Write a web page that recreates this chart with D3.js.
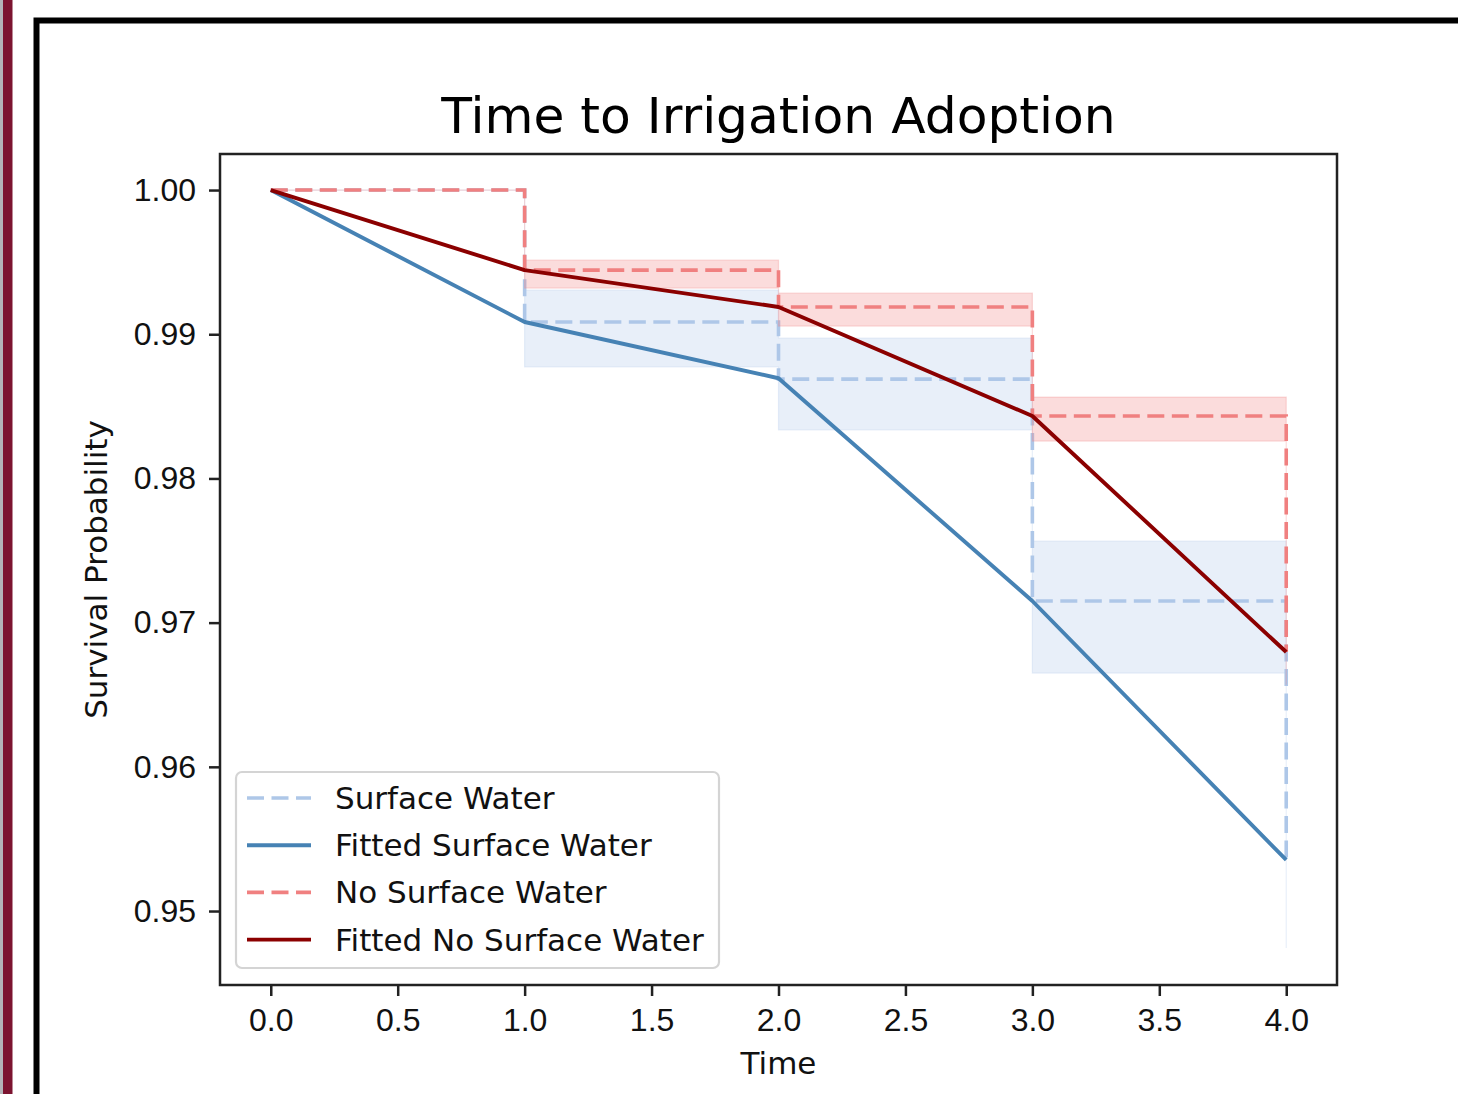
<!DOCTYPE html>
<meta charset="utf-8">
<title>Time to Irrigation Adoption</title>
<style>
  body { margin: 0; background: #fff; }
  svg { display: block; font-family: "DejaVu Sans", sans-serif; }
  .tick text { font-size: 32px; fill: #111; }
  .tick line { stroke: #222; stroke-width: 2.5; }
</style>
<body>
<svg width="1458" height="1094" id="chart"></svg>
<script src="https://d3js.org/d3.v7.min.js"></script>
<script>
// survival data
var times = [0, 1, 2, 3, 4];
var swKM = [1.0, 0.99085, 0.98689, 0.97150, 0.95354];
var swFit = [1.0, 0.99085, 0.98695, 0.97150, 0.95354];
var swLo = [1.0, 0.98773, 0.98336, 0.96650, 0.94743];
var swHi = [1.0, 0.99307, 0.98974, 0.97566, 0.96000];
var nswKM = [1.0, 0.99445, 0.99189, 0.98433, 0.96796];
var nswFit = [1.0, 0.99445, 0.99189, 0.98433, 0.96796];
var nswLo = [1.0, 0.99320, 0.99057, 0.98259, 0.96570];
var nswHi = [1.0, 0.99515, 0.99286, 0.98564, 0.97020];
var xTicks = [0, 0.5, 1, 1.5, 2, 2.5, 3, 3.5, 4];
var yTicks = [0.95, 0.96, 0.97, 0.98, 0.99, 1.00];
var legendLabels = ["Surface Water", "Fitted Surface Water", "No Surface Water", "Fitted No Surface Water"];

var svg = d3.select("#chart");

// page decoration: side strip and frame
svg.append("rect").attr("x", 0).attr("y", 0).attr("width", 3).attr("height", 1094).attr("fill", "#b4b4b8");
svg.append("rect").attr("x", 3).attr("y", 0).attr("width", 9.5).attr("height", 1094).attr("fill", "#7c1430");
svg.append("path")
    .attr("d", "M36.5,1100 V20.5 H1470")
    .attr("fill", "none").attr("stroke", "#000").attr("stroke-width", 6);

var pLeft = 220, pRight = 1337, pTop = 154, pBottom = 985;

var x = d3.scaleLinear().domain([-0.2, 4.2]).range([pLeft, pRight]);
var y = d3.scaleLinear().domain([0.94487, 1.0025]).range([pBottom, pTop]);

var plot = svg.append("g");
plot.append("clipPath").attr("id", "clip")
  .append("rect").attr("x", pLeft).attr("y", pTop).attr("width", pRight - pLeft).attr("height", pBottom - pTop);
var g = plot.append("g").attr("clip-path", "url(#clip)");

function rows(a, b) {
  return times.map(function(t, i) { return {t: t, lo: a[i], hi: b ? b[i] : a[i]}; });
}

var band = d3.area().curve(d3.curveStepAfter)
    .x(function(d) { return x(d.t); })
    .y0(function(d) { return y(d.lo); })
    .y1(function(d) { return y(d.hi); });
var step = d3.line().curve(d3.curveStepAfter)
    .x(function(d) { return x(d.t); })
    .y(function(d) { return y(d.lo); });
var straight = d3.line()
    .x(function(d) { return x(d.t); })
    .y(function(d) { return y(d.lo); });

var series = [
  {km: swKM, fit: swFit, lo: swLo, hi: swHi, light: "#aec7e8", dark: "#4682b4"},
  {km: nswKM, fit: nswFit, lo: nswLo, hi: nswHi, light: "#f08080", dark: "#8b0000"}
];

series.forEach(function(s) {
  g.append("path").attr("d", band(rows(s.lo, s.hi)))
      .attr("fill", s.light).attr("fill-opacity", 0.28)
      .attr("stroke", s.light).attr("stroke-opacity", 0.28).attr("stroke-width", 1.2);
  g.append("path").attr("d", step(rows(s.km)))
      .attr("fill", "none").attr("stroke", s.light).attr("stroke-width", 3.6)
      .attr("stroke-dasharray", "17,7.5");
  g.append("path").attr("d", straight(rows(s.fit)))
      .attr("fill", "none").attr("stroke", s.dark).attr("stroke-width", 3.9)
      .attr("stroke-linejoin", "round");
});

// axes
svg.append("g").attr("transform", "translate(0," + pBottom + ")")
    .call(d3.axisBottom(x).tickValues(xTicks).tickFormat(d3.format(".1f")).tickSize(11).tickPadding(12))
    .call(function(a) { a.select(".domain").remove(); });
svg.append("g").attr("transform", "translate(" + pLeft + ",0)")
    .call(d3.axisLeft(y).tickValues(yTicks).tickFormat(d3.format(".2f")).tickSize(11).tickPadding(13))
    .call(function(a) { a.select(".domain").remove(); });

svg.append("rect").attr("x", pLeft).attr("y", pTop)
    .attr("width", pRight - pLeft).attr("height", pBottom - pTop)
    .attr("fill", "none").attr("stroke", "#222").attr("stroke-width", 2.5);

svg.append("text").attr("x", (pLeft + pRight) / 2).attr("y", 133)
    .attr("text-anchor", "middle").attr("font-size", 50.3).attr("fill", "#000")
    .text("Time to Irrigation Adoption");
svg.append("text").attr("x", (pLeft + pRight) / 2).attr("y", 1074)
    .attr("text-anchor", "middle").attr("font-size", 31).attr("fill", "#111")
    .text("Time");
svg.append("text").attr("transform", "translate(107," + (pTop + pBottom) / 2 + ") rotate(-90)")
    .attr("text-anchor", "middle").attr("font-size", 31).attr("fill", "#111")
    .text("Survival Probability");

// legend
var lg = svg.append("g").attr("transform", "translate(236,772)");
lg.append("rect").attr("width", 483).attr("height", 196).attr("rx", 6)
    .attr("fill", "#fff").attr("fill-opacity", 0.8)
    .attr("stroke", "#d4d4d4").attr("stroke-width", 2.2);
var keys = [
  {color: "#aec7e8", dash: "17,7.5"},
  {color: "#4682b4", dash: null},
  {color: "#f08080", dash: "17,7.5"},
  {color: "#8b0000", dash: null}
];
legendLabels.forEach(function(label, i) {
  var cy = 26 + i * 47.2;
  lg.append("line").attr("x1", 11).attr("x2", 75).attr("y1", cy).attr("y2", cy)
      .attr("stroke", keys[i].color).attr("stroke-width", keys[i].dash ? 3.6 : 3.9)
      .attr("stroke-dasharray", keys[i].dash);
  lg.append("text").attr("x", 99).attr("y", cy + 11).attr("font-size", 31).attr("fill", "#111")
      .text(label);
});
</script>
</body>
